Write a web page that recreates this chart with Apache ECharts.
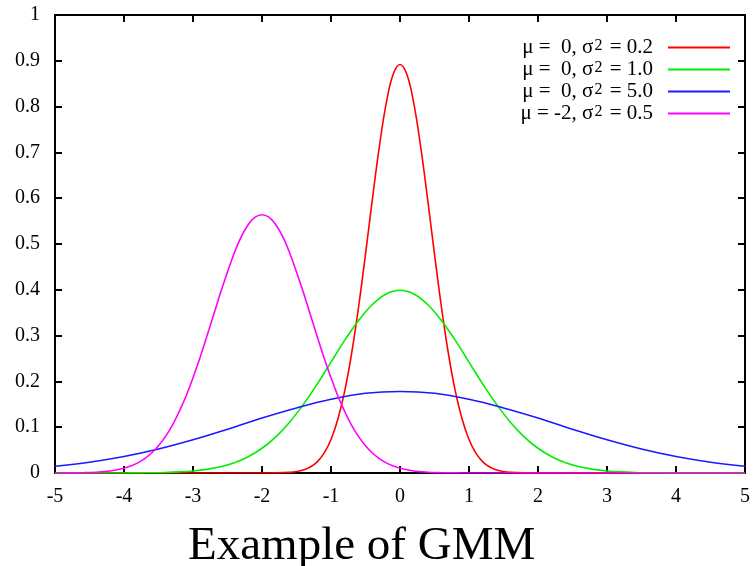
<!DOCTYPE html>
<html>
<head>
<meta charset="utf-8">
<script src="https://cdn.jsdelivr.net/npm/echarts@6/dist/echarts.min.js"></script>
<style>html,body{margin:0;padding:0;background:#fff}#c{width:753px;height:566px}</style>
</head>
<body>
<div id="c"></div>
<script>
// Series names (legend)
const seriesNames = ['μ =  0, σ2 = 0.2', 'μ =  0, σ2 = 1.0', 'μ =  0, σ2 = 5.0', 'μ = -2, σ2 = 0.5'];
const seriesColors = ['#ff0000', '#00ee00', '#1a1aff', '#ff00ff'];
const xTicks = [-5, -4, -3, -2, -1, 0, 1, 2, 3, 4, 5];
const yTicks = [0, 0.1, 0.2, 0.3, 0.4, 0.5, 0.6, 0.7, 0.8, 0.9, 1];
const chartTitle = 'Example of GMM';

// red: mu=0, var=0.2
const redX = [-5, -3, -2.5, -2, -1.8, -1.6, -1.5, -1.4, -1.3, -1.2, -1.1, -1.0, -0.9, -0.8, -0.7, -0.6, -0.5, -0.4, -0.3, -0.2, -0.1, 0, 0.1, 0.2, 0.3, 0.4, 0.5, 0.6, 0.7, 0.8, 0.9, 1.0, 1.1, 1.2, 1.3, 1.4, 1.5, 1.6, 1.8, 2, 2.5, 3, 5];
const redY = [0, 0, 0, 0, 0.0003, 0.0015, 0.0032, 0.0066, 0.0130, 0.0244, 0.0433, 0.0732, 0.118, 0.180, 0.262, 0.363, 0.478, 0.598, 0.712, 0.807, 0.870, 0.892, 0.870, 0.807, 0.712, 0.598, 0.478, 0.363, 0.262, 0.180, 0.118, 0.0732, 0.0433, 0.0244, 0.0130, 0.0066, 0.0032, 0.0015, 0.0003, 0, 0, 0, 0];

// green: mu=0, var=1.0
const greenX = [-5, -4.5, -4.0, -3.8, -3.6, -3.4, -3.2, -3.0, -2.8, -2.6, -2.4, -2.2, -2.0, -1.8, -1.6, -1.4, -1.2, -1.0, -0.8, -0.6, -0.4, -0.2, 0, 0.2, 0.4, 0.6, 0.8, 1.0, 1.2, 1.4, 1.6, 1.8, 2.0, 2.2, 2.4, 2.6, 2.8, 3.0, 3.2, 3.4, 3.6, 3.8, 4.0, 4.5, 5];
const greenY = [0, 0, 0.0001, 0.0003, 0.0006, 0.0012, 0.0024, 0.0044, 0.0079, 0.0136, 0.0224, 0.0355, 0.054, 0.079, 0.111, 0.150, 0.194, 0.242, 0.290, 0.333, 0.368, 0.391, 0.399, 0.391, 0.368, 0.333, 0.290, 0.242, 0.194, 0.150, 0.111, 0.079, 0.054, 0.0355, 0.0224, 0.0136, 0.0079, 0.0044, 0.0024, 0.0012, 0.0006, 0.0003, 0.0001, 0, 0];

// blue: mu=0, var=5.0
const blueX = [-5, -4.5, -4, -3.5, -3, -2.5, -2, -1.5, -1, -0.5, 0, 0.5, 1, 1.5, 2, 2.5, 3, 3.5, 4, 4.5, 5];
const blueY = [0.0146, 0.0236, 0.0360, 0.0524, 0.0725, 0.0955, 0.120, 0.142, 0.161, 0.174, 0.178, 0.174, 0.161, 0.142, 0.120, 0.0955, 0.0725, 0.0524, 0.0360, 0.0236, 0.0146];

// magenta: mu=-2, var=0.5
const magX = [-5, -4.8, -4.6, -4.4, -4.2, -4.0, -3.9, -3.8, -3.7, -3.6, -3.5, -3.4, -3.3, -3.2, -3.1, -3.0, -2.9, -2.8, -2.7, -2.6, -2.5, -2.4, -2.3, -2.2, -2.1, -2.0, -1.9, -1.8, -1.7, -1.6, -1.5, -1.4, -1.3, -1.2, -1.1, -1.0, -0.9, -0.8, -0.7, -0.6, -0.5, -0.4, -0.3, -0.2, -0.1, 0, 0.2, 0.4, 0.6, 0.8, 1, 1.5, 2, 5];
const magY = [0.0001, 0.0002, 0.0007, 0.0018, 0.0045, 0.0103, 0.0153, 0.0221, 0.0314, 0.0436, 0.0595, 0.0795, 0.104, 0.134, 0.168, 0.208, 0.251, 0.298, 0.346, 0.394, 0.439, 0.481, 0.516, 0.542, 0.5586, 0.564, 0.5586, 0.542, 0.516, 0.481, 0.439, 0.394, 0.346, 0.298, 0.251, 0.208, 0.168, 0.134, 0.104, 0.0795, 0.0595, 0.0436, 0.0314, 0.0221, 0.0153, 0.0103, 0.0045, 0.0018, 0.0007, 0.0002, 0.0001, 0, 0, 0];

const xs = [redX, greenX, blueX, magX];
const ys = [redY, greenY, blueY, magY];

const serif = '"Liberation Serif", "DejaVu Serif", serif';
const chart = echarts.init(document.getElementById('c'), null, {renderer: 'canvas'});

const axisLine = {show: true, onZero: false, lineStyle: {color: '#000', width: 2}};
const axisTick = {show: true, inside: true, length: 7, lineStyle: {color: '#000', width: 2}};

chart.setOption({
  animation: false,
  backgroundColor: '#fff',
  title: {
    text: chartTitle,
    left: 183,
    top: 518,
    textStyle: {fontFamily: serif, fontSize: 47, fontWeight: 'normal', color: '#000'}
  },
  legend: {
    orient: 'vertical',
    right: 17,
    top: 32,
    align: 'right',
    itemWidth: 62,
    itemHeight: 14,
    itemGap: 1,
    itemStyle: {opacity: 0},
    formatter: n => n.replace('σ2', 'σ{sup|2}'),
    textStyle: {
      fontFamily: serif, fontSize: 21, color: '#000', lineHeight: 20, padding: [0, 10, 0, 0],
      rich: {
        sup: {fontFamily: serif, fontSize: 16, color: '#000', verticalAlign: 'top', lineHeight: 4, padding: [0, 2, 0, 1]}
      }
    },
    data: seriesNames
  },
  grid: {left: 55, right: 4, top: 15, bottom: 93},
  xAxis: [{
    type: 'value', min: -5, max: 5, interval: 1,
    axisLine: axisLine, axisTick: axisTick, splitLine: {show: false},
    axisLabel: {color: '#000', fontFamily: serif, fontSize: 20, margin: 14,
      formatter: v => xTicks.includes(v) ? String(v) : ''}
  }, {
    type: 'value', min: -5, max: 5, interval: 1, position: 'top',
    axisLine: axisLine, axisTick: axisTick, splitLine: {show: false}, axisLabel: {show: false}
  }],
  yAxis: [{
    type: 'value', min: 0, max: 1, interval: 0.1,
    axisLine: axisLine, axisTick: axisTick, splitLine: {show: false},
    axisLabel: {color: '#000', fontFamily: serif, fontSize: 20, margin: 15,
      formatter: v => { const r = Math.round(v * 10) / 10; return yTicks.includes(r) ? String(r) : ''; }}
  }, {
    type: 'value', min: 0, max: 1, interval: 0.1, position: 'right',
    axisLine: axisLine, axisTick: axisTick, splitLine: {show: false}, axisLabel: {show: false}
  }],
  series: seriesNames.map((n, i) => ({
    name: n,
    type: 'line',
    xAxisIndex: 0, yAxisIndex: 0,
    symbol: 'none',
    smooth: 0.4,
    color: seriesColors[i],
    lineStyle: {width: 1.6, color: seriesColors[i]},
    data: xs[i].map((x, j) => [x, ys[i][j]])
  }))
});
</script>
</body>
</html>
